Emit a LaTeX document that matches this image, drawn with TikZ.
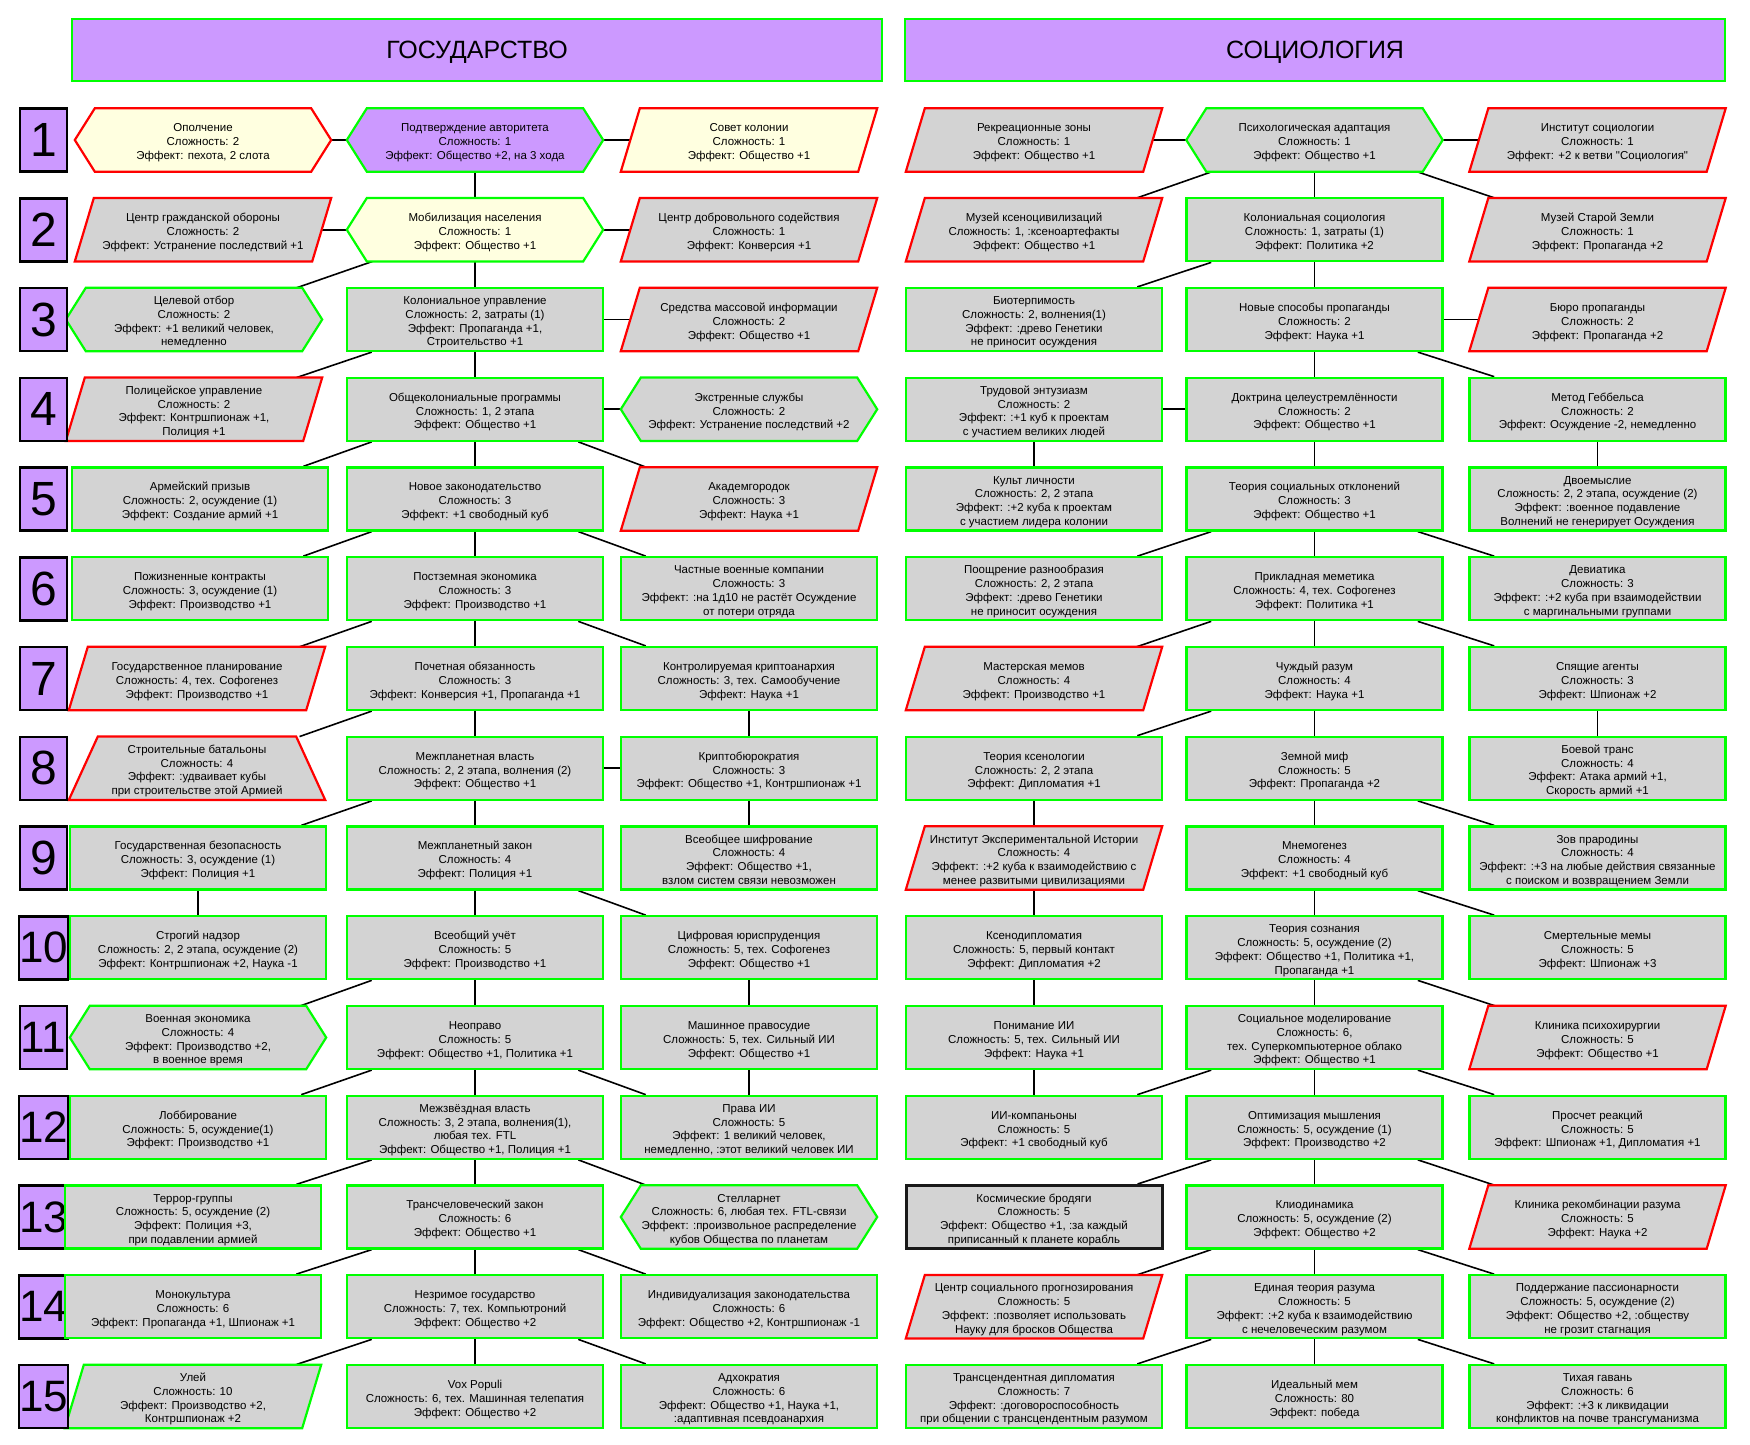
\documentclass[tikz,border=0pt]{standalone}
\usepackage{fontspec}
\setmainfont{Liberation Sans}
\usetikzlibrary{calc,backgrounds}
\definecolor{gfill}{HTML}{D3D3D3}
\definecolor{yfill}{HTML}{FFFFE0}
\definecolor{pfill}{HTML}{CC99FF}
\definecolor{gline}{HTML}{00FF00}
\definecolor{rline}{HTML}{FF0000}
\newcommand\T[1]{\raisebox{-3pt}[\height][\depth]{\begin{tabular}{@{}c@{}}#1\end{tabular}}}
\newcommand\Shex[2]{\path[#2] (#1.west) -- ([xshift=20pt]#1.north west) -- ([xshift=-20pt]#1.north east) -- (#1.east) -- ([xshift=-20pt]#1.south east) -- ([xshift=20pt]#1.south west) -- cycle;}
\newcommand\Spar[2]{\path[#2] (#1.south west) -- ([xshift=19pt]#1.north west) -- (#1.north east) -- ([xshift=-19pt]#1.south east) -- cycle;}
\newcommand\Strap[2]{\path[#2] (#1.south west) -- ([xshift=29pt]#1.north west) -- ([xshift=-29pt]#1.north east) -- (#1.south east) -- cycle;}
\newcommand\Cv[2]{\draw[conn] (#1.south) -- (#2.north);}
\newcommand\Ch[2]{\draw[conn] (#1.center) -- (#2.center);}
\newcommand\Cl[2]{\draw[conn] ($(#1.south west)!0.1!(#1.south east)$) -- ($(#2.north west)!0.9!(#2.north east)$);}
\newcommand\Cr[2]{\draw[conn] ($(#1.south west)!0.9!(#1.south east)$) -- ($(#2.north west)!0.1!(#2.north east)$);}
\begin{document}
\begin{tikzpicture}[x=1pt,y=-1pt,
  box/.style={minimum width=256pt,minimum height=63pt,inner sep=0pt,font=\fontsize{11.5pt}{13.8pt}\selectfont},
  rbox/.style={box,draw=gline,line width=2.2pt,fill=gfill},
  kbox/.style={box,draw=black!90,line width=3pt,fill=gfill},
  gb/.style={draw=gline,line width=2.2pt},
  rb/.style={draw=rline,line width=2.2pt},
  fg/.style={fill=gfill},
  fy/.style={fill=yfill},
  fp/.style={fill=pfill},
  numbox/.style={draw=black,line width=2.5pt,fill=pfill,minimum width=47pt,minimum height=63pt,inner sep=0pt,font=\fontsize{48pt}{48pt}\selectfont},
  numboxb/.style={numbox,font=\fontsize{44pt}{44pt}\selectfont},
  hdr/.style={draw=gline,line width=2.5pt,fill=pfill,minimum height=62pt,inner sep=0pt,font=\fontsize{25pt}{30pt}\selectfont},
  conn/.style={draw=black,line width=1.6pt}]
\useasboundingbox (0,0) rectangle (1750,1444);

% headers
\node[hdr,minimum width=810pt] (h1) at (477,50) {\raisebox{-2pt}[\height][\depth]{ГОСУДАРСТВО}};
\node[hdr,minimum width=820pt] (h2) at (1315,50) {\raisebox{-2pt}[\height][\depth]{СОЦИОЛОГИЯ}};

% row numbers
\node[numbox] (n1) at (43.5,140) {1};
\node[numbox] (n2) at (43.5,229.75) {2};
\node[numbox] (n3) at (43.5,319.5) {3};
\node[numbox] (n4) at (43.5,409.25) {4};
\node[numbox] (n5) at (43.5,499) {5};
\node[numbox] (n6) at (43.5,588.75) {6};
\node[numbox] (n7) at (43.5,678.5) {7};
\node[numbox] (n8) at (43.5,768.25) {8};
\node[numbox] (n9) at (43.5,858) {9};
\node[numboxb] (n10) at (43.5,947.75) {10};
\node[numboxb] (n11) at (43.5,1037.5) {11};
\node[numboxb] (n12) at (43.5,1127.25) {12};
\node[numboxb] (n13) at (43.5,1217) {13};
\node[numboxb] (n14) at (43.5,1306.75) {14};
\node[numboxb] (n15) at (43.5,1396.5) {15};

% ===== ГОСУДАРСТВО =====
\node[box] (gL1) at (203,140) {\T{Ополчение\\Сложность: 2\\Эффект: пехота, 2 слота}};
\node[box] (gC1) at (475,140) {\T{Подтверждение авторитета\\Сложность: 1\\Эффект: Общество +2, на 3 хода}};
\node[box] (gR1) at (749,140) {\T{Совет колонии\\Сложность: 1\\Эффект: Общество +1}};

\node[box] (gL2) at (203,229.75) {\T{Центр гражданской обороны\\Сложность: 2\\Эффект: Устранение последствий +1}};
\node[box] (gC2) at (475,229.75) {\T{Мобилизация населения\\Сложность: 1\\Эффект: Общество +1}};
\node[box] (gR2) at (749,229.75) {\T{Центр добровольного содействия\\Сложность: 1\\Эффект: Конверсия +1}};

\node[box] (gL3) at (194,319.5) {\T{Целевой отбор\\Сложность: 2\\Эффект: +1 великий человек,\\немедленно}};
\node[rbox] (gC3) at (475,319.5) {\T{Колониальное управление\\Сложность: 2, затраты (1)\\Эффект: Пропаганда +1,\\Строительство +1}};
\node[box] (gR3) at (749,319.5) {\T{Средства массовой информации\\Сложность: 2\\Эффект: Общество +1}};

\node[box] (gL4) at (194,409.25) {\T{Полицейское управление\\Сложность: 2\\Эффект: Контршпионаж +1,\\Полиция +1}};
\node[rbox] (gC4) at (475,409.25) {\T{Общеколониальные программы\\Сложность: 1, 2 этапа\\Эффект: Общество +1}};
\node[box] (gR4) at (749,409.25) {\T{Экстренные службы\\Сложность: 2\\Эффект: Устранение последствий +2}};

\node[rbox] (gL5) at (200,499) {\T{Армейский призыв\\Сложность: 2, осуждение (1)\\Эффект: Создание армий +1}};
\node[rbox] (gC5) at (475,499) {\T{Новое законодательство\\Сложность: 3\\Эффект: +1 свободный куб}};
\node[box] (gR5) at (749,499) {\T{Академгородок\\Сложность: 3\\Эффект: Наука +1}};

\node[rbox] (gL6) at (200,588.75) {\T{Пожизненные контракты\\Сложность: 3, осуждение (1)\\Эффект: Производство +1}};
\node[rbox] (gC6) at (475,588.75) {\T{Постземная экономика\\Сложность: 3\\Эффект: Производство +1}};
\node[rbox] (gR6) at (749,588.75) {\T{Частные военные компании\\Сложность: 3\\Эффект: :на 1д10 не растёт Осуждение\\от потери отряда}};

\node[box] (gL7) at (197,678.5) {\T{Государственное планирование\\Сложность: 4, тех. Софогенез\\Эффект: Производство +1}};
\node[rbox] (gC7) at (475,678.5) {\T{Почетная обязанность\\Сложность: 3\\Эффект: Конверсия +1, Пропаганда +1}};
\node[rbox] (gR7) at (749,678.5) {\T{Контролируемая криптоанархия\\Сложность: 3, тех. Самообучение\\Эффект: Наука +1}};

\node[box] (gL8) at (197,768.25) {\T{Строительные батальоны\\Сложность: 4\\Эффект: :удваивает кубы\\при строительстве этой Армией}};
\node[rbox] (gC8) at (475,768.25) {\T{Межпланетная власть\\Сложность: 2, 2 этапа, волнения (2)\\Эффект: Общество +1}};
\node[rbox] (gR8) at (749,768.25) {\T{Криптобюрократия\\Сложность: 3\\Эффект: Общество +1, Контршпионаж +1}};

\node[rbox] (gL9) at (198,858) {\T{Государственная безопасность\\Сложность: 3, осуждение (1)\\Эффект: Полиция +1}};
\node[rbox] (gC9) at (475,858) {\T{Межпланетный закон\\Сложность: 4\\Эффект: Полиция +1}};
\node[rbox] (gR9) at (749,858) {\T{Всеобщее шифрование\\Сложность: 4\\Эффект: Общество +1,\\взлом систем связи невозможен}};

\node[rbox] (gL10) at (198,947.75) {\T{Строгий надзор\\Сложность: 2, 2 этапа, осуждение (2)\\Эффект: Контршпионаж +2, Наука -1}};
\node[rbox] (gC10) at (475,947.75) {\T{Всеобщий учёт\\Сложность: 5\\Эффект: Производство +1}};
\node[rbox] (gR10) at (749,947.75) {\T{Цифровая юриспруденция\\Сложность: 5, тех. Софогенез\\Эффект: Общество +1}};

\node[box] (gL11) at (198,1037.5) {\T{Военная экономика\\Сложность: 4\\Эффект: Производство +2,\\в военное время}};
\node[rbox] (gC11) at (475,1037.5) {\T{Неоправо\\Сложность: 5\\Эффект: Общество +1, Политика +1}};
\node[rbox] (gR11) at (749,1037.5) {\T{Машинное правосудие\\Сложность: 5, тех. Сильный ИИ\\Эффект: Общество +1}};

\node[rbox] (gL12) at (198,1127.25) {\T{Лоббирование\\Сложность: 5, осуждение(1)\\Эффект: Производство +1}};
\node[rbox] (gC12) at (475,1127.25) {\T{Межзвёздная власть\\Сложность: 3, 2 этапа, волнения(1),\\любая тех. FTL\\Эффект: Общество +1, Полиция +1}};
\node[rbox] (gR12) at (749,1127.25) {\T{Права ИИ\\Сложность: 5\\Эффект: 1 великий человек,\\немедленно, :этот великий человек ИИ}};

\node[rbox] (gL13) at (193,1217) {\T{Террор-группы\\Сложность: 5, осуждение (2)\\Эффект: Полиция +3,\\при подавлении армией}};
\node[rbox] (gC13) at (475,1217) {\T{Трансчеловеческий закон\\Сложность: 6\\Эффект: Общество +1}};
\node[box] (gR13) at (749,1217) {\T{Стелларнет\\Сложность: 6, любая тех. FTL-связи\\Эффект: :произвольное распределение\\кубов Общества по планетам}};

\node[rbox] (gL14) at (193,1306.75) {\T{Монокультура\\Сложность: 6\\Эффект: Пропаганда +1, Шпионаж +1}};
\node[rbox] (gC14) at (475,1306.75) {\T{Незримое государство\\Сложность: 7, тех. Компьютроний\\Эффект: Общество +2}};
\node[rbox] (gR14) at (749,1306.75) {\T{Индивидуализация законодательства\\Сложность: 6\\Эффект: Общество +2, Контршпионаж -1}};

\node[box] (gL15) at (193,1396.5) {\T{Улей\\Сложность: 10\\Эффект: Производство +2,\\Контршпионаж +2}};
\node[rbox] (gC15) at (475,1396.5) {\T{Vox Populi\\Сложность: 6, тех. Машинная телепатия\\Эффект: Общество +2}};
\node[rbox] (gR15) at (749,1396.5) {\T{Адхократия\\Сложность: 6\\Эффект: Общество +1, Наука +1,\\:адаптивная псевдоанархия}};

% ===== СОЦИОЛОГИЯ =====
\node[box] (sL1) at (1034,140) {\T{Рекреационные зоны\\Сложность: 1\\Эффект: Общество +1}};
\node[box] (sC1) at (1314.5,140) {\T{Психологическая адаптация\\Сложность: 1\\Эффект: Общество +1}};
\node[box] (sR1) at (1597.5,140) {\T{Институт социологии\\Сложность: 1\\Эффект: +2 к ветви \textquotedbl Социология\textquotedbl}};

\node[box] (sL2) at (1034,229.75) {\T{Музей ксеноцивилизаций\\Сложность: 1, :ксеноартефакты\\Эффект: Общество +1}};
\node[rbox] (sC2) at (1314.5,229.75) {\T{Колониальная социология\\Сложность: 1, затраты (1)\\Эффект: Политика +2}};
\node[box] (sR2) at (1597.5,229.75) {\T{Музей Старой Земли\\Сложность: 1\\Эффект: Пропаганда +2}};

\node[rbox] (sL3) at (1034,319.5) {\T{Биотерпимость\\Сложность: 2, волнения(1)\\Эффект: :древо Генетики\\не приносит осуждения}};
\node[rbox] (sC3) at (1314.5,319.5) {\T{Новые способы пропаганды\\Сложность: 2\\Эффект: Наука +1}};
\node[box] (sR3) at (1597.5,319.5) {\T{Бюро пропаганды\\Сложность: 2\\Эффект: Пропаганда +2}};

\node[rbox] (sL4) at (1034,409.25) {\T{Трудовой энтузиазм\\Сложность: 2\\Эффект: :+1 куб к проектам\\с участием великих людей}};
\node[rbox] (sC4) at (1314.5,409.25) {\T{Доктрина целеустремлённости\\Сложность: 2\\Эффект: Общество +1}};
\node[rbox] (sR4) at (1597.5,409.25) {\T{Метод Геббельса\\Сложность: 2\\Эффект: Осуждение -2, немедленно}};

\node[rbox] (sL5) at (1034,499) {\T{Культ личности\\Сложность: 2, 2 этапа\\Эффект: :+2 куба к проектам\\с участием лидера колонии}};
\node[rbox] (sC5) at (1314.5,499) {\T{Теория социальных отклонений\\Сложность: 3\\Эффект: Общество +1}};
\node[rbox] (sR5) at (1597.5,499) {\T{Двоемыслие\\Сложность: 2, 2 этапа, осуждение (2)\\Эффект: :военное подавление\\Волнений не генерирует Осуждения}};

\node[rbox] (sL6) at (1034,588.75) {\T{Поощрение разнообразия\\Сложность: 2, 2 этапа\\Эффект: :древо Генетики\\не приносит осуждения}};
\node[rbox] (sC6) at (1314.5,588.75) {\T{Прикладная меметика\\Сложность: 4, тех. Софогенез\\Эффект: Политика +1}};
\node[rbox] (sR6) at (1597.5,588.75) {\T{Девиатика\\Сложность: 3\\Эффект: :+2 куба при взаимодействии\\с маргинальными группами}};

\node[box] (sL7) at (1034,678.5) {\T{Мастерская мемов\\Сложность: 4\\Эффект: Производство +1}};
\node[rbox] (sC7) at (1314.5,678.5) {\T{Чуждый разум\\Сложность: 4\\Эффект: Наука +1}};
\node[rbox] (sR7) at (1597.5,678.5) {\T{Спящие агенты\\Сложность: 3\\Эффект: Шпионаж +2}};

\node[rbox] (sL8) at (1034,768.25) {\T{Теория ксенологии\\Сложность: 2, 2 этапа\\Эффект: Дипломатия +1}};
\node[rbox] (sC8) at (1314.5,768.25) {\T{Земной миф\\Сложность: 5\\Эффект: Пропаганда +2}};
\node[rbox] (sR8) at (1597.5,768.25) {\T{Боевой транс\\Сложность: 4\\Эффект: Атака армий +1,\\Скорость армий +1}};

\node[box] (sL9) at (1034,858) {\T{Институт Экспериментальной Истории\\Сложность: 4\\Эффект: :+2 куба к взаимодействию с\\менее развитыми цивилизациями}};
\node[rbox] (sC9) at (1314.5,858) {\T{Мнемогенез\\Сложность: 4\\Эффект: +1 свободный куб}};
\node[rbox] (sR9) at (1597.5,858) {\T{Зов прародины\\Сложность: 4\\Эффект: :+3 на любые действия связанные\\с поиском и возвращением Земли}};

\node[rbox] (sL10) at (1034,947.75) {\T{Ксенодипломатия\\Сложность: 5, первый контакт\\Эффект: Дипломатия +2}};
\node[rbox] (sC10) at (1314.5,947.75) {\T{Теория сознания\\Сложность: 5, осуждение (2)\\Эффект: Общество +1, Политика +1,\\Пропаганда +1}};
\node[rbox] (sR10) at (1597.5,947.75) {\T{Смертельные мемы\\Сложность: 5\\Эффект: Шпионаж +3}};

\node[rbox] (sL11) at (1034,1037.5) {\T{Понимание ИИ\\Сложность: 5, тех. Сильный ИИ\\Эффект: Наука +1}};
\node[rbox] (sC11) at (1314.5,1037.5) {\T{Социальное моделирование\\Сложность: 6,\\тех. Суперкомпьютерное облако\\Эффект: Общество +1}};
\node[box] (sR11) at (1597.5,1037.5) {\T{Клиника психохирургии\\Сложность: 5\\Эффект: Общество +1}};

\node[rbox] (sL12) at (1034,1127.25) {\T{ИИ-компаньоны\\Сложность: 5\\Эффект: +1 свободный куб}};
\node[rbox] (sC12) at (1314.5,1127.25) {\T{Оптимизация мышления\\Сложность: 5, осуждение (1)\\Эффект: Производство +2}};
\node[rbox] (sR12) at (1597.5,1127.25) {\T{Просчет реакций\\Сложность: 5\\Эффект: Шпионаж +1, Дипломатия +1}};

\node[kbox] (sL13) at (1034,1217) {\T{Космические бродяги\\Сложность: 5\\Эффект: Общество +1, :за каждый\\приписанный к планете корабль}};
\node[rbox] (sC13) at (1314.5,1217) {\T{Клиодинамика\\Сложность: 5, осуждение (2)\\Эффект: Общество +2}};
\node[box] (sR13) at (1597.5,1217) {\T{Клиника рекомбинации разума\\Сложность: 5\\Эффект: Наука +2}};

\node[box] (sL14) at (1034,1306.75) {\T{Центр социального прогнозирования\\Сложность: 5\\Эффект: :позволяет использовать\\Науку для бросков Общества}};
\node[rbox] (sC14) at (1314.5,1306.75) {\T{Единая теория разума\\Сложность: 5\\Эффект: :+2 куба к взаимодействию\\с нечеловеческим разумом}};
\node[rbox] (sR14) at (1597.5,1306.75) {\T{Поддержание пассионарности\\Сложность: 5, осуждение (2)\\Эффект: Общество +2, :обществу\\не грозит стагнация}};

\node[rbox] (sL15) at (1034,1396.5) {\T{Трансцендентная дипломатия\\Сложность: 7\\Эффект: :договороспособность\\при общении с трансцендентным разумом}};
\node[rbox] (sC15) at (1314.5,1396.5) {\T{Идеальный мем\\Сложность: 80\\Эффект: победа}};
\node[rbox] (sR15) at (1597.5,1396.5) {\T{Тихая гавань\\Сложность: 6\\Эффект: :+3 к ликвидации\\конфликтов на почве трансгуманизма}};

\begin{pgfonlayer}{background}
\fill[white] (0,0) rectangle (1750,1444);
% connectors: ГОСУДАРСТВО
\Ch{gL1}{gC1} \Ch{gC1}{gR1} \Cv{gC1}{gC2}
\Ch{gL2}{gC2} \Ch{gC2}{gR2} \Cv{gC2}{gC3} \Cl{gC2}{gL3}
\Ch{gC3}{gR3} \Cv{gC3}{gC4} \Cl{gC3}{gL4}
\Ch{gC4}{gR4} \Cl{gC4}{gL5} \Cv{gC4}{gC5} \Cr{gC4}{gR5}
\Cl{gC5}{gL6} \Cv{gC5}{gC6} \Cr{gC5}{gR6}
\Cl{gC6}{gL7} \Cv{gC6}{gC7} \Cr{gC6}{gR7}
\Cl{gC7}{gL8} \Cv{gC7}{gC8} \Cv{gR7}{gR8}
\Ch{gC8}{gR8} \Cl{gC8}{gL9} \Cv{gC8}{gC9} \Cv{gR8}{gR9}
\Cv{gL9}{gL10} \Cv{gC9}{gC10} \Cr{gC9}{gR10}
\Cl{gC10}{gL11} \Cv{gC10}{gC11} \Cv{gR10}{gR11}
\Cl{gC11}{gL12} \Cv{gC11}{gC12} \Cr{gC11}{gR12} \Cv{gR11}{gR12}
\Cl{gC12}{gL13} \Cv{gC12}{gC13} \Cr{gC12}{gR13}
\Cl{gC13}{gL14} \Cv{gC13}{gC14} \Cr{gC13}{gR14}
\Cl{gC14}{gL15} \Cv{gC14}{gC15} \Cr{gC14}{gR15}
% connectors: СОЦИОЛОГИЯ
\Ch{sL1}{sC1} \Ch{sC1}{sR1} \Cl{sC1}{sL2} \Cv{sC1}{sC2} \Cr{sC1}{sR2}
\Cl{sC2}{sL3} \Cv{sC2}{sC3}
\Ch{sC3}{sR3} \Cv{sC3}{sC4} \Cr{sC3}{sR4}
\Ch{sL4}{sC4} \Cv{sL4}{sL5} \Cv{sC4}{sC5} \Cv{sR4}{sR5}
\Cl{sC5}{sL6} \Cv{sC5}{sC6} \Cr{sC5}{sR6}
\Cl{sC6}{sL7} \Cv{sC6}{sC7} \Cr{sC6}{sR7}
\Cl{sC7}{sL8} \Cv{sC7}{sC8} \Cv{sR7}{sR8}
\Cv{sL8}{sL9} \Cv{sC8}{sC9} \Cr{sC8}{sR9}
\Cv{sL9}{sL10} \Cv{sC9}{sC10} \Cr{sC9}{sR10}
\Cv{sL10}{sL11} \Cv{sC10}{sC11} \Cr{sC10}{sR11}
\Cv{sL11}{sL12} \Cl{sC11}{sL12} \Cv{sC11}{sC12} \Cr{sC11}{sR12}
\Cl{sC12}{sL13} \Cv{sC12}{sC13} \Cr{sC12}{sR13}
\Cl{sC13}{sL14} \Cv{sC13}{sC14} \Cr{sC13}{sR14}
\Cl{sC14}{sL15} \Cv{sC14}{sC15} \Cr{sC14}{sR15}
% shapes
\Shex{gL1}{rb,fy}
\Shex{gC1}{gb,fp}
\Spar{gR1}{rb,fy}
\Spar{gL2}{rb,fg}
\Shex{gC2}{gb,fy}
\Spar{gR2}{rb,fg}
\Shex{gL3}{gb,fg}
\Spar{gR3}{rb,fg}
\Spar{gL4}{rb,fg}
\Shex{gR4}{gb,fg}
\Spar{gR5}{rb,fg}
\Spar{gL7}{rb,fg}
\Strap{gL8}{rb,fg}
\Shex{gL11}{gb,fg}
\Shex{gR13}{gb,fg}
\Spar{gL15}{gb,fg}
\Spar{sL1}{rb,fg}
\Shex{sC1}{gb,fg}
\Spar{sR1}{rb,fg}
\Spar{sL2}{rb,fg}
\Spar{sR2}{rb,fg}
\Spar{sR3}{rb,fg}
\Spar{sL7}{rb,fg}
\Spar{sL9}{rb,fg}
\Spar{sR11}{rb,fg}
\Spar{sR13}{rb,fg}
\Spar{sL14}{rb,fg}
\end{pgfonlayer}
\end{tikzpicture}
\end{document}
